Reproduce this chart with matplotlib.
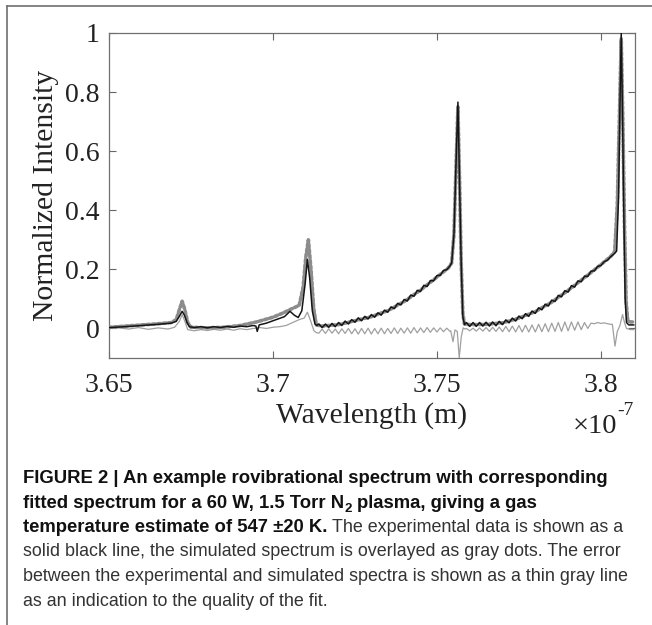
import matplotlib
matplotlib.use('Agg')
import matplotlib.pyplot as plt
from matplotlib.lines import Line2D

# ---------------- data (wavelength in units of 1e-7 m) ----------------
# experimental spectrum (black line)
exp_left_x = [3.650, 3.655, 3.660, 3.665, 3.669, 3.6705, 3.6715, 3.6723, 3.6730, 3.6738,
              3.6745, 3.676, 3.678, 3.680, 3.682, 3.684, 3.686, 3.688, 3.690, 3.692,
              3.694, 3.6948, 3.6952, 3.6958, 3.698, 3.700, 3.702, 3.7035, 3.7052, 3.7065,
              3.7077, 3.7088, 3.7098, 3.7105, 3.7112, 3.7120, 3.7128, 3.7134]
exp_left_y = [0.003, 0.006, 0.010, 0.014, 0.018, 0.024, 0.042, 0.058, 0.045, 0.020,
              0.006, 0.003, 0.006, 0.002, 0.006, 0.003, 0.007, 0.004, 0.008, 0.006,
              0.010, 0.008, -0.010, 0.012, 0.018, 0.026, 0.034, 0.040, 0.058, 0.045,
              0.037, 0.060, 0.150, 0.234, 0.170, 0.060, 0.015, 0.010]

wl_band1 = [3.714, 3.715, 3.716, 3.717, 3.718, 3.719, 3.720, 3.721, 3.722, 3.723,
            3.724, 3.725, 3.726, 3.727, 3.728, 3.729, 3.730, 3.731, 3.732, 3.733,
            3.734, 3.735, 3.736, 3.737, 3.738, 3.739, 3.740, 3.741, 3.742, 3.743,
            3.744, 3.745, 3.746, 3.747, 3.748, 3.749, 3.750, 3.751, 3.752, 3.753,
            3.754]
exp_band1 = [0.015, 0.003, 0.015, 0.004, 0.017, 0.006, 0.020, 0.010, 0.025, 0.015,
             0.030, 0.021, 0.036, 0.026, 0.041, 0.032, 0.047, 0.038, 0.053, 0.045,
             0.062, 0.055, 0.073, 0.067, 0.085, 0.080, 0.098, 0.093, 0.113, 0.109,
             0.129, 0.125, 0.146, 0.142, 0.162, 0.161, 0.179, 0.180, 0.196, 0.199,
             0.212]
err_band1 = [-0.016, -0.002, -0.017, -0.001, -0.016, -0.002, -0.018, -0.001, -0.017, 0.000,
             -0.018, -0.001, -0.019, 0.000, -0.018, 0.001, -0.019, 0.000, -0.018, 0.001,
             -0.018, 0.000, -0.017, 0.002, -0.017, 0.001, -0.016, 0.002, -0.016, 0.003,
             -0.015, 0.002, -0.014, 0.003, -0.013, 0.002, -0.012, 0.002, -0.011, 0.001,
             -0.010]

exp_head1_x = [3.7545, 3.7552, 3.7558, 3.7564, 3.7569, 3.7574, 3.7579, 3.7584]
exp_head1_y = [0.222, 0.320, 0.550, 0.766, 0.500, 0.220, 0.040, 0.013]

wl_band2 = [3.759, 3.760, 3.761, 3.762, 3.763, 3.764, 3.765, 3.766, 3.767, 3.768,
            3.769, 3.770, 3.771, 3.772, 3.773, 3.774, 3.775, 3.776, 3.777, 3.778,
            3.779, 3.780, 3.781, 3.782, 3.783, 3.784, 3.785, 3.786, 3.787, 3.788,
            3.789, 3.790, 3.791, 3.792, 3.793, 3.794, 3.795, 3.796, 3.797, 3.798,
            3.799, 3.800, 3.801, 3.802, 3.803]
exp_band2 = [0.020, 0.007, 0.020, 0.007, 0.020, 0.008, 0.021, 0.008, 0.022, 0.009,
             0.024, 0.013, 0.029, 0.019, 0.035, 0.025, 0.042, 0.033, 0.050, 0.041,
             0.059, 0.051, 0.070, 0.063, 0.082, 0.076, 0.096, 0.091, 0.112, 0.107,
             0.128, 0.123, 0.145, 0.140, 0.161, 0.158, 0.177, 0.176, 0.194, 0.195,
             0.210, 0.213, 0.226, 0.231, 0.243]
err_band2 = [0.000, -0.008, 0.001, -0.009, 0.002, -0.009, 0.003, -0.010, 0.004, -0.010,
             0.005, -0.011, 0.007, -0.011, 0.008, -0.012, 0.010, -0.012, 0.011, -0.012,
             0.012, -0.012, 0.014, -0.011, 0.016, -0.011, 0.018, -0.010, 0.020, -0.010,
             0.022, -0.008, 0.022, -0.006, 0.022, -0.004, 0.020, 0.000, 0.018, 0.016,
             0.020, 0.017, 0.019, 0.016, 0.014]

exp_head2_x = [3.804, 3.8048, 3.8054, 3.8058, 3.8062, 3.8066, 3.8070, 3.8074, 3.8078, 3.8085, 3.8100]
exp_head2_y = [0.252, 0.262, 0.450, 0.750, 1.000, 0.720, 0.380, 0.100, 0.020, 0.012, 0.012]

# simulated spectrum (gray dots)
sim_x = [3.650, 3.655, 3.660, 3.665, 3.669, 3.6705, 3.6715, 3.6723, 3.6731, 3.6740,
         3.675, 3.680, 3.685, 3.690, 3.695, 3.700, 3.703, 3.706, 3.708, 3.7092,
         3.7100, 3.7108, 3.7116, 3.7124, 3.7132, 3.715, 3.720, 3.725, 3.730, 3.735,
         3.740, 3.745, 3.750, 3.7535, 3.7545, 3.7552, 3.7558, 3.7564, 3.7569, 3.7574,
         3.7579, 3.7584, 3.760, 3.765, 3.770, 3.775, 3.780, 3.785, 3.790, 3.795,
         3.800, 3.803, 3.8042, 3.8050, 3.8056, 3.8062, 3.8067, 3.8072, 3.8077, 3.8082,
         3.809, 3.810]
sim_y = [0.004, 0.008, 0.012, 0.016, 0.020, 0.030, 0.065, 0.092, 0.065, 0.020,
         0.004, 0.002, 0.004, 0.010, 0.022, 0.038, 0.052, 0.068, 0.078, 0.140,
         0.240, 0.300, 0.200, 0.070, 0.012, 0.008, 0.013, 0.026, 0.040, 0.060,
         0.091, 0.130, 0.174, 0.205, 0.222, 0.320, 0.540, 0.750, 0.500, 0.220,
         0.050, 0.015, 0.013, 0.014, 0.019, 0.035, 0.057, 0.089, 0.129, 0.172,
         0.216, 0.244, 0.260, 0.420, 0.700, 0.980, 0.700, 0.350, 0.090, 0.025,
         0.022, 0.022]

# error between experiment and simulation (thin gray line)
err_left_x = [3.650, 3.653, 3.656, 3.659, 3.662, 3.665, 3.668, 3.670, 3.6715, 3.6723,
              3.6731, 3.674, 3.676, 3.678, 3.680, 3.682, 3.684, 3.686, 3.688, 3.690,
              3.692, 3.694, 3.696, 3.698, 3.700, 3.702, 3.704, 3.706, 3.708, 3.7095,
              3.7105, 3.7115, 3.7125, 3.7132]
err_left_y = [0.000, 0.002, -0.002, 0.003, -0.003, 0.002, -0.002, 0.004, 0.025, 0.047,
              0.025, -0.004, -0.008, -0.004, -0.007, -0.003, -0.006, -0.002, -0.006, -0.001,
              -0.004, 0.000, 0.003, 0.000, 0.004, 0.006, 0.010, 0.020, 0.030, 0.035,
              0.055, 0.025, -0.008, -0.014]
err_head1_x = [3.7542, 3.7549, 3.7555, 3.7562, 3.7568, 3.7574, 3.7580, 3.7585]
err_head1_y = [-0.008, -0.045, -0.005, -0.010, -0.100, -0.030, 0.002, -0.002]
err_head2_x = [3.8035, 3.8043, 3.8050, 3.8058, 3.8066, 3.8072, 3.8078, 3.8090, 3.8100]
err_head2_y = [0.014, -0.060, -0.010, 0.010, 0.047, 0.020, 0.000, -0.004, -0.004]

x_ticks = [3.65, 3.70, 3.75, 3.80]
x_tick_labels = ['3.65', '3.7', '3.75', '3.8']
y_ticks = [0, 0.2, 0.4, 0.6, 0.8, 1.0]
y_tick_labels = ['0', '0.2', '0.4', '0.6', '0.8', '1']

caption_lines = [
    [("FIGURE 2 | An example rovibrational spectrum with corresponding", 'bold', 'main')],
    [("fitted spectrum for a 60 W, 1.5 Torr N", 'bold', 'main'), ("2", 'bold', 'sub'),
     (" plasma, giving a gas", 'bold', 'main')],
    [("temperature estimate of 547 \u00b120 K.", 'bold', 'main'),
     (" The experimental data is shown as a", 'normal', 'main')],
    [("solid black line, the simulated spectrum is overlayed as gray dots. The error", 'normal', 'main')],
    [("between the experimental and simulated spectra is shown as a thin gray line", 'normal', 'main')],
    [("as an indication to the quality of the fit.", 'normal', 'main')],
]

# ---------------- figure ----------------
W, H = 652, 625
fig = plt.figure(figsize=(W / 100, H / 100), dpi=100)
fig.patch.set_facecolor('white')

SERIF = ['Liberation Serif', 'DejaVu Serif']
SANS = ['Liberation Sans', 'DejaVu Sans']

# outer frame (top and left edges)
fig.add_artist(Line2D([7 / W, 1.0], [1 - 6 / H, 1 - 6 / H], transform=fig.transFigure,
                      color='#707070', lw=1.2))
fig.add_artist(Line2D([7 / W, 7 / W], [1 - 6 / H, 0.0], transform=fig.transFigure,
                      color='#707070', lw=1.2))

ax_l, ax_r, ax_t, ax_b = 109, 635, 33, 358
ax = fig.add_axes([ax_l / W, 1 - ax_b / H, (ax_r - ax_l) / W, (ax_b - ax_t) / H])

exp_x = exp_left_x + wl_band1 + exp_head1_x + wl_band2 + exp_head2_x
exp_y = exp_left_y + exp_band1 + exp_head1_y + exp_band2 + exp_head2_y
err_x = err_left_x + wl_band1 + err_head1_x + wl_band2 + err_head2_x
err_y = err_left_y + err_band1 + err_head1_y + err_band2 + err_head2_y

ax.plot(err_x, err_y, color='#a0a0a0', lw=0.9, zorder=2)
ax.plot(sim_x, sim_y, color='#8c8c8c', lw=2.6, linestyle=(0, (0.8, 0.7)),
        dash_capstyle='round', zorder=3)
ax.plot(exp_x, exp_y, color='#151515', lw=1.1, zorder=4)

ax.set_xlim(3.65, 3.8104)
ax.set_ylim(-0.1, 1.0)
ax.set_xticks(x_ticks)
ax.set_xticklabels(x_tick_labels, family=SERIF, fontsize=20, color='#222222')
ax.set_yticks(y_ticks)
ax.set_yticklabels(y_tick_labels, family=SERIF, fontsize=20, color='#222222')
ax.tick_params(direction='in', top=True, right=True, length=5, width=0.8,
               color='#666666')
ax.tick_params(axis='x', pad=11)
ax.tick_params(axis='y', pad=7)
for s in ax.spines.values():
    s.set_color('#707070')
    s.set_linewidth(0.9)

def px(x, y):
    return x / W, 1 - y / H

fig.text(*px(46, 195), 'Normalized Intensity', rotation=90, family=SERIF, fontsize=21.3,
         color='#222222', ha='center', va='center')
fig.text(*px(372, 423), 'Wavelength (m)', family=SERIF, fontsize=21.3,
         color='#222222', ha='center', va='baseline')
fig.text(*px(617, 433), '\u00d710', family=SERIF, fontsize=20.5,
         color='#222222', ha='right', va='baseline')
fig.text(*px(617, 415), '-7', family=SERIF, fontsize=14,
         color='#222222', ha='left', va='baseline')

# ---------------- caption ----------------
renderer = fig.canvas.get_renderer()

def text_width(s, size, weight):
    t = fig.text(0, 0, s, fontsize=size, fontweight=weight, family=SANS)
    w = t.get_window_extent(renderer).width
    t.remove()
    return w

ref_size = 10.0
reg_size = ref_size * 607.0 / text_width(caption_lines[4][0][0], ref_size, 'normal')
bold_size = ref_size * 585.0 / text_width(caption_lines[0][0][0], ref_size, 'bold')

def space_w(size, weight):
    return text_width('x x', size, weight) - text_width('xx', size, weight)

x0 = 23
base0 = 483
lead = 24.5
for i, pieces in enumerate(caption_lines):
    y = base0 + i * lead
    x = x0
    for txt, weight, kind in pieces:
        main = bold_size if weight == 'bold' else reg_size
        size = main if kind == 'main' else main * 0.72
        dy = 0 if kind == 'main' else 4.5
        color = '#111111' if weight == 'bold' else '#333333'
        lead_sp = len(txt) - len(txt.lstrip(' '))
        body = txt.strip(' ')
        x += lead_sp * space_w(size, weight)
        t = fig.text(*px(x, y + dy), body, fontsize=size, fontweight=weight,
                     family=SANS, color=color, ha='left', va='baseline')
        x += t.get_window_extent(renderer).width

fig.savefig('out.png', dpi=100, facecolor='white')
